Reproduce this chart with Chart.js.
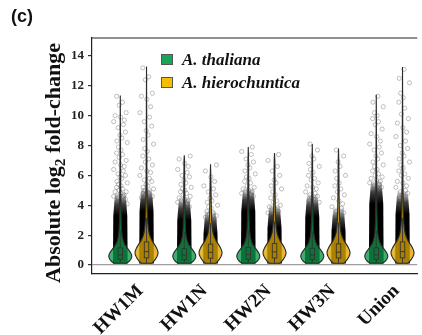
<!DOCTYPE html>
<html>
<head>
<meta charset="utf-8">
<script src="https://cdn.jsdelivr.net/npm/chart.js@4.4.1/dist/chart.umd.min.js"></script>
<style>
  body { margin: 0; background: #fff; }
  #wrap { position: relative; width: 422px; height: 335px; overflow: hidden; }
  .tag { position: absolute; left: 11px; top: 6px; font: bold 18px 'Liberation Sans', sans-serif; color: #111; }
  .ytitle { position: absolute; left: 53px; top: 163px; transform: translate(-50%, -50%) rotate(-90deg);
            white-space: nowrap; font: bold 22px 'Liberation Serif', serif; color: #111; }
  .ytitle sub { font-size: 70%; vertical-align: -0.3em; line-height: 0; }
  .legend { position: absolute; left: 161px; top: 48px; font: italic bold 17px 'Liberation Serif', serif; color: #111; }
  .legend div { display: flex; align-items: center; height: 23px; }
  .legend .sw { width: 12px; height: 11px; border: 1px solid #555; box-sizing: border-box; margin-right: 9px; }
</style>
</head>
<body>
<div id="wrap">
  <canvas id="c" width="422" height="335"></canvas>
  <div class="tag">(c)</div>
  <div class="ytitle">Absolute log<sub>2</sub> fold-change</div>
  <div class="legend">
    <div><span class="sw" style="background:#17a557"></span>A. thaliana</div>
    <div><span class="sw" style="background:#f7bd00"></span>A. hierochuntica</div>
  </div>
</div>
<script>
const categories = ['HW1M', 'HW1N', 'HW2N', 'HW3N', 'Union'];
const yTicks = [0, 2, 4, 6, 8, 10, 12, 14];

// largest value per group (top of each violin)
const thalianaMax = [11.35, 7.35, 7.9, 8.1, 11.4];
const hieroMax = [13.3, 6.75, 7.5, 7.8, 13.25];

// value up to which the points pile into a solid column
const thalianaDense = [4.0, 3.7, 4.3, 3.9, 4.8];
const hieroDense = [4.3, 2.8, 3.2, 3.0, 4.1];

// boxplot quartiles
const thalianaQ1 = [0.38, 0.36, 0.38, 0.37, 0.38];
const thalianaMed = [0.68, 0.66, 0.7, 0.68, 0.68];
const thalianaQ3 = [1.15, 1.1, 1.18, 1.12, 1.15];
const hieroQ1 = [0.48, 0.46, 0.47, 0.47, 0.48];
const hieroMed = [0.9, 0.85, 0.88, 0.86, 0.9];
const hieroQ3 = [1.55, 1.4, 1.45, 1.42, 1.55];

// violin density (relative width) at these fold-change levels
const densityLevels = [0.12, 0.25, 0.4, 0.55, 0.7, 0.85, 1.0, 1.2, 1.4, 1.6, 1.85, 2.1, 2.5, 3.0, 3.6, 4.5, 5.5, 7.0];
const thalianaDensity = [0.55, 0.78, 0.93, 1.0, 0.98, 0.88, 0.74, 0.55, 0.38, 0.27, 0.19, 0.14, 0.1, 0.075, 0.06, 0.045, 0.035, 0.025];
const hieroDensity = [0.45, 0.62, 0.78, 0.9, 0.98, 1.0, 0.95, 0.83, 0.67, 0.5, 0.34, 0.23, 0.15, 0.1, 0.075, 0.055, 0.04, 0.028];

// sparse points above the dense column
const thalianaTail = [
  [11.3, 10.9, 10.7, 10.2, 10.0, 9.9, 9.7, 9.6, 9.4, 9.2, 8.9, 8.7, 8.5, 8.3, 8.2, 7.9, 7.7, 7.5, 7.4, 7.2, 7.0, 6.9, 6.7, 6.6, 6.4, 6.3, 6.1, 6.0, 5.9, 5.8, 5.6, 5.5, 5.4, 5.3, 5.2, 5.1, 5.0, 4.9, 4.9, 4.8, 4.7, 4.6, 4.6, 4.5, 4.4, 4.3, 4.3, 4.2, 4.1],
  [7.3, 7.1, 6.8, 6.6, 6.4, 6.2, 6.0, 5.9, 5.7, 5.5, 5.4, 5.2, 5.1, 5.0, 4.9, 4.8, 4.7, 4.6, 4.5, 4.4, 4.3, 4.2, 4.1, 4.0, 3.9, 3.9, 3.8],
  [7.9, 7.6, 7.4, 7.1, 6.9, 6.7, 6.5, 6.3, 6.1, 5.9, 5.8, 5.6, 5.5, 5.3, 5.2, 5.1, 5.0, 4.9, 4.8, 4.7, 4.6, 4.6, 4.5, 4.4],
  [8.1, 7.7, 7.3, 7.1, 6.8, 6.6, 6.4, 6.2, 6.0, 5.8, 5.7, 5.5, 5.3, 5.2, 5.1, 4.9, 4.8, 4.7, 4.6, 4.5, 4.4, 4.3, 4.2, 4.1],
  [11.3, 10.9, 10.6, 10.2, 10.0, 9.8, 9.6, 9.4, 9.1, 8.8, 8.6, 8.3, 8.1, 7.9, 7.7, 7.5, 7.3, 7.1, 6.9, 6.7, 6.6, 6.4, 6.3, 6.1, 6.0, 5.9, 5.8, 5.7, 5.6, 5.5, 5.4, 5.3, 5.2, 5.1, 5.0]
];
const hieroTail = [
  [13.2, 12.6, 12.4, 11.5, 11.3, 11.1, 10.6, 10.2, 9.9, 9.6, 9.3, 9.0, 8.7, 8.4, 8.1, 7.8, 7.6, 7.3, 7.1, 6.9, 6.7, 6.5, 6.3, 6.2, 6.0, 5.8, 5.7, 5.6, 5.4, 5.3, 5.2, 5.1, 5.0, 4.9, 4.8, 4.8, 4.7, 4.6, 4.5, 4.5, 4.4],
  [6.7, 6.3, 5.9, 5.6, 5.3, 5.1, 4.9, 4.7, 4.5, 4.3, 4.2, 4.0, 3.9, 3.8, 3.6, 3.5, 3.4, 3.3, 3.2, 3.1, 3.0],
  [7.4, 7.0, 6.6, 6.3, 6.0, 5.7, 5.5, 5.3, 5.1, 4.9, 4.7, 4.5, 4.3, 4.2, 4.0, 3.9, 3.8, 3.6, 3.5, 3.4],
  [7.7, 7.3, 6.9, 6.6, 6.3, 6.0, 5.8, 5.5, 5.3, 5.1, 4.9, 4.7, 4.5, 4.3, 4.1, 3.9, 3.8, 3.6, 3.5, 3.4, 3.3, 3.2],
  [13.1, 12.5, 12.2, 11.5, 11.2, 10.9, 10.5, 10.1, 9.8, 9.5, 9.2, 8.9, 8.6, 8.3, 8.0, 7.8, 7.5, 7.3, 7.1, 6.9, 6.7, 6.5, 6.3, 6.1, 6.0, 5.8, 5.6, 5.5, 5.3, 5.2, 5.0, 4.9, 4.8, 4.7, 4.6, 4.5]
];

// layout / style
const DODGE = 0.205;      // half distance between the two species in a group
const JITTER = 0.115;     // half width of the jittered points
const VIOLIN_W = 0.18;    // half width of the widest violin
const BOX_W = 0.035;
const jitterPattern = [-0.5, 0.3, -0.15, 0.8, -0.7, 0.05, 0.55, -0.9, 0.4, -0.3, 0.7, -0.05, 0.2, -0.45, 0.95, -0.25, 0.1];

const series = [
  { name: 'A. thaliana', off: -DODGE, fill: 'rgba(12,150,70,0.78)', max: thalianaMax, dense: thalianaDense,
    q1: thalianaQ1, med: thalianaMed, q3: thalianaQ3, density: thalianaDensity, tail: thalianaTail },
  { name: 'A. hierochuntica', off: DODGE, fill: 'rgba(222,165,0,0.78)', max: hieroMax, dense: hieroDense,
    q1: hieroQ1, med: hieroMed, q3: hieroQ3, density: hieroDensity, tail: hieroTail }
];

const datasets = series.map(s => ({
  label: s.name,
  data: s.tail.flatMap((vals, g) => vals.map((v, k) => ({
    x: g + 1 + s.off + JITTER * jitterPattern[(k + g * 3) % jitterPattern.length],
    y: v
  }))),
  pointRadius: 2.1,
  pointBorderWidth: 0.7,
  pointBorderColor: 'rgba(80,80,80,0.5)',
  pointBackgroundColor: 'rgba(0,0,0,0)'
}));

const violinPlugin = {
  id: 'violins',
  beforeDatasetsDraw(chart) {
    // dense part of the point cloud, a column that thins out at the top
    const { ctx, scales: { x, y } } = chart;
    ctx.save();
    series.forEach(s => {
      s.dense.forEach((top, g) => {
        const cx = g + 1 + s.off;
        const yb = y.getPixelForValue(0.1), yt = y.getPixelForValue(top + 0.9), ys = y.getPixelForValue(top - 0.7);
        const grad = ctx.createLinearGradient(0, yt, 0, ys);
        grad.addColorStop(0, 'rgba(0,0,0,0)');
        grad.addColorStop(0.5, 'rgba(0,0,0,0.75)');
        grad.addColorStop(1, 'rgba(0,0,0,1)');
        ctx.fillStyle = grad;
        ctx.beginPath();
        ctx.moveTo(x.getPixelForValue(cx - JITTER), yb);
        ctx.lineTo(x.getPixelForValue(cx - JITTER * 0.95), ys);
        ctx.lineTo(x.getPixelForValue(cx - JITTER * 0.7), yt);
        ctx.lineTo(x.getPixelForValue(cx + JITTER * 0.7), yt);
        ctx.lineTo(x.getPixelForValue(cx + JITTER * 0.95), ys);
        ctx.lineTo(x.getPixelForValue(cx + JITTER), yb);
        ctx.closePath();
        ctx.fill();
      });
    });
    ctx.restore();
  },
  afterDatasetsDraw(chart) {
    const { ctx, scales: { x, y } } = chart;
    ctx.save();
    series.forEach(s => {
      s.max.forEach((mx, g) => {
        const cx = g + 1 + s.off;
        const lv = densityLevels.map((v, i) => [v, s.density[i]]).filter(p => p[0] < mx);
        lv.push([mx, 0]);
        ctx.beginPath();
        lv.forEach(([v, d], i) => {
          const px = x.getPixelForValue(cx - d * VIOLIN_W), py = y.getPixelForValue(v);
          i ? ctx.lineTo(px, py) : ctx.moveTo(px, py);
        });
        for (let i = lv.length - 1; i >= 0; i--) {
          ctx.lineTo(x.getPixelForValue(cx + lv[i][1] * VIOLIN_W), y.getPixelForValue(lv[i][0]));
        }
        ctx.closePath();
        ctx.fillStyle = s.fill;
        ctx.fill();
        ctx.lineWidth = 1.1;
        ctx.strokeStyle = '#2b2b2b';
        ctx.stroke();

        // box and whiskers
        const q1 = s.q1[g], q3 = s.q3[g], md = s.med[g];
        const bl = x.getPixelForValue(cx - BOX_W), br = x.getPixelForValue(cx + BOX_W);
        const xc = x.getPixelForValue(cx);
        ctx.lineWidth = 0.9;
        ctx.strokeStyle = '#333';
        ctx.beginPath();
        ctx.moveTo(xc, y.getPixelForValue(q3)); ctx.lineTo(xc, y.getPixelForValue(q3 + 1.5 * (q3 - q1)));
        ctx.moveTo(xc, y.getPixelForValue(q1)); ctx.lineTo(xc, y.getPixelForValue(0.12));
        ctx.stroke();
        ctx.strokeRect(bl, y.getPixelForValue(q3), br - bl, y.getPixelForValue(q1) - y.getPixelForValue(q3));
        ctx.beginPath();
        ctx.moveTo(bl, y.getPixelForValue(md)); ctx.lineTo(br, y.getPixelForValue(md));
        ctx.stroke();
      });
    });
    ctx.restore();
  },
  afterDraw(chart) {
    // top edge of the panel frame
    const { ctx, chartArea: a } = chart;
    ctx.save();
    ctx.strokeStyle = '#222';
    ctx.lineWidth = 1.2;
    ctx.beginPath();
    ctx.moveTo(a.left, a.top); ctx.lineTo(a.right, a.top);
    ctx.stroke();
    ctx.restore();
  }
};

new Chart(document.getElementById('c'), {
  type: 'scatter',
  data: { datasets },
  plugins: [violinPlugin],
  options: {
    responsive: false,
    animation: false,
    layout: { padding: { top: 38, left: 0, right: 0, bottom: 0 } },
    plugins: { legend: { display: false }, tooltip: { enabled: false } },
    scales: {
      x: {
        type: 'linear',
        min: 0.353,
        max: 5.436,
        afterFit: s => { s.height = 61; },
        afterBuildTicks: s => { s.ticks = categories.map((c, i) => ({ value: i + 1 })); },
        grid: { display: false },
        border: { display: true, color: '#222', width: 1.2 },
        ticks: {
          autoSkip: false,
          minRotation: 45,
          maxRotation: 45,
          padding: -2,
          labelOffset: 7,
          color: '#111',
          font: { family: 'Liberation Serif', weight: 'bold', size: 19 },
          callback: v => categories[v - 1]
        }
      },
      y: {
        min: -0.6,
        max: 15.2,
        afterFit: s => { s.width = 92; },
        afterBuildTicks: s => { s.ticks = yTicks.map(v => ({ value: v })); },
        grid: {
          color: c => (c.tick && c.tick.value === 0 ? '#a0a0a0' : 'rgba(0,0,0,0)'),
          lineWidth: 1.2,
          tickColor: '#333',
          tickLength: 4
        },
        border: { display: true, color: '#222', width: 1.2 },
        ticks: {
          padding: 4,
          color: '#222',
          font: { family: 'Liberation Serif', weight: 'bold', size: 13 }
        }
      }
    }
  }
});
</script>
</body>
</html>
